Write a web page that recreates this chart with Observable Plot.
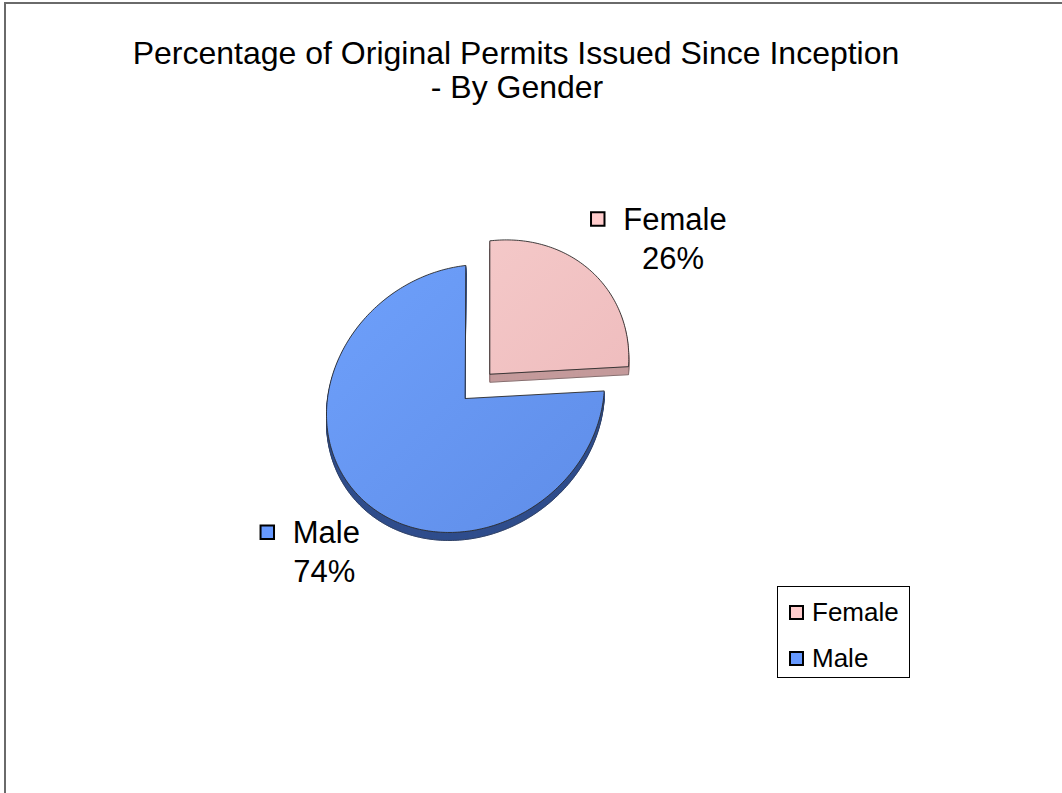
<!DOCTYPE html>
<html>
<head>
<meta charset="utf-8">
<script src="https://cdn.jsdelivr.net/npm/d3@7"></script>
<script src="https://cdn.jsdelivr.net/npm/@observablehq/plot@0.6"></script>
<style>
  html, body { margin: 0; padding: 0; background: #fff; }
  body { width: 1062px; height: 793px; overflow: hidden; position: relative; font-family: "Liberation Sans", Arial, sans-serif; }
  #frame { position: absolute; left: 4px; top: 2px; width: 1100px; height: 900px; border-left: 2px solid #6a6a6a; border-top: 2px solid #6a6a6a; }
  #chart { position: absolute; left: 0; top: 0; }
  .title { position: absolute; font-size: 32px; color: #000; white-space: nowrap; transform: translateX(-50%); line-height: 1; }
  #legend { position: absolute; left: 777px; top: 586px; width: 131px; height: 90px; border: 1px solid #000; background: #fff; }
  .li { position: absolute; left: 11px; font-size: 26px; line-height: 1; white-space: nowrap; }
  .li span.sw { display: inline-block; width: 11px; height: 11px; border: 2px solid #000; margin-right: 8px; vertical-align: 1px; }
</style>
</head>
<body>
<div id="frame"></div>
<div id="chart"></div>
<div class="title" style="left:516px; top:37px;">Percentage of Original Permits Issued Since Inception</div>
<div class="title" style="left:517px; top:71px;">- By Gender</div>
<div id="legend"></div>
<script>
// ---- data ----
const categories = ["Female", "Male"];
const values = [26, 74];
const percentLabels = ["26%", "74%"];

// ---- styles / layout ----
const W = 1062, H = 793;
const CX = 465, CY = 398, RX = 139, RY = 133;
const TILT = 0.12; // 3D viewing shear (y += TILT * x), data units
const faceColors = {Female: "url(#gF)", Male: "url(#gM)"};
const sideColors = {Female: "#c49a9b", Male: "#2f4d8c"};
const keyColors = {Female: "#ffcccc", Male: "#6699ff"};
const explode = {Female: 0.24, Male: 0};
const DEPTH = 8; // px
const FONT = 31;

// ---- geometry from values ----
const total = d3.sum(values);
let acc = 0;
const slices = categories.map((c, i) => {
  const a0 = acc / total * 2 * Math.PI;
  acc += values[i];
  const a1 = acc / total * 2 * Math.PI;
  const am = (a0 + a1) / 2;
  const ox = explode[c] * Math.sin(am), oy = explode[c] * Math.cos(am);
  return {cat: c, value: values[i], pct: percentLabels[i], a0, a1, am, ox, oy};
});

function pt(x, y, shift, key) { return {x, y: y + TILT * x - shift, key}; }
function polygon(s, shift) {
  const pts = [pt(s.ox, s.oy, shift, s.cat)];
  const n = Math.max(8, Math.ceil((s.a1 - s.a0) / (Math.PI / 180)));
  for (let k = 0; k <= n; k++) {
    const a = s.a0 + (s.a1 - s.a0) * k / n;
    pts.push(pt(s.ox + Math.sin(a), s.oy + Math.cos(a), shift, s.cat));
  }
  return pts;
}

const marks = [];
for (const s of slices) {
  for (let d = DEPTH; d >= 1; d--) {
    marks.push(Plot.line(polygon(s, d / RY), {x: "x", y: "y", curve: "linear-closed",
      fill: sideColors[s.cat], stroke: sideColors[s.cat], strokeWidth: 1}));
  }
  marks.push(Plot.line(polygon(s, DEPTH / RY), {x: "x", y: "y", curve: "linear-closed",
    fill: "none", stroke: "#303030", strokeWidth: 0.6, strokeOpacity: 0.7}));
  marks.push(Plot.line(polygon(s, 0), {x: "x", y: "y", curve: "linear-closed",
    fill: faceColors[s.cat], stroke: "#2a2a2a", strokeWidth: 0.9}));
}

// data labels
const canvas = document.createElement("canvas").getContext("2d");
canvas.font = `${FONT}px "Liberation Sans", Arial, sans-serif`;
const LR = 1.6, BX = 14, BY = 8;
const labelRows = slices.map(s => {
  const bx = CX + RX * (s.ox + LR * Math.sin(s.am)) + BX;
  const by = CY - RY * (s.oy + LR * Math.cos(s.am)) + BY;
  const w = canvas.measureText(s.cat).width;
  const nameCx = bx + 9;
  const sqCx = nameCx - w / 2 - 25.5;
  const toX = px => (px - CX) / RX, toY = py => (CY - py) / RY;
  return {cat: s.cat, pct: s.pct,
    nx: toX(nameCx), ny: toY(by - 19),
    px: toX(bx + 7), py: toY(by + 20),
    sx: toX(sqCx), sy: toY(by - 20)};
});
marks.push(Plot.text(labelRows, {x: "nx", y: "ny", text: "cat", fontSize: FONT, fill: "#000", textAnchor: "middle", lineAnchor: "middle"}));
marks.push(Plot.text(labelRows, {x: "px", y: "py", text: "pct", fontSize: FONT, fill: "#000", textAnchor: "middle", lineAnchor: "middle"}));
marks.push(Plot.dot(labelRows, {x: "sx", y: "sy", symbol: "square", r: 7.6, fill: d => keyColors[d.cat], stroke: "#000", strokeWidth: 2}));

const plot = Plot.plot({
  width: W, height: H,
  margin: 0,
  style: {background: "transparent", fontFamily: '"Liberation Sans", Arial, sans-serif', overflow: "visible"},
  x: {type: "linear", domain: [-CX / RX, (W - CX) / RX], range: [0, W], axis: null},
  y: {type: "linear", domain: [-(H - CY) / RY, CY / RY], range: [H, 0], axis: null},
  marks
});

// gradients for slice faces
const ns = "http://www.w3.org/2000/svg";
const defs = document.createElementNS(ns, "defs");
defs.innerHTML = `
  <linearGradient id="gM" x1="0" y1="0" x2="1" y2="1">
    <stop offset="0" stop-color="#6ea0fb"/>
    <stop offset="1" stop-color="#5f8de8"/>
  </linearGradient>
  <linearGradient id="gF" x1="0" y1="0" x2="1" y2="1">
    <stop offset="0" stop-color="#f4c8c8"/>
    <stop offset="1" stop-color="#efbdbe"/>
  </linearGradient>`;
plot.insertBefore(defs, plot.firstChild);
document.getElementById("chart").appendChild(plot);

// legend
const legend = document.getElementById("legend");
const tops = {Female: 12, Male: 58};
categories.forEach(c => {
  const div = document.createElement("div");
  div.className = "li";
  div.style.top = tops[c] + "px";
  div.innerHTML = `<span class="sw" style="background:${keyColors[c]}"></span>${c}`;
  legend.appendChild(div);
});
</script>
</body>
</html>
